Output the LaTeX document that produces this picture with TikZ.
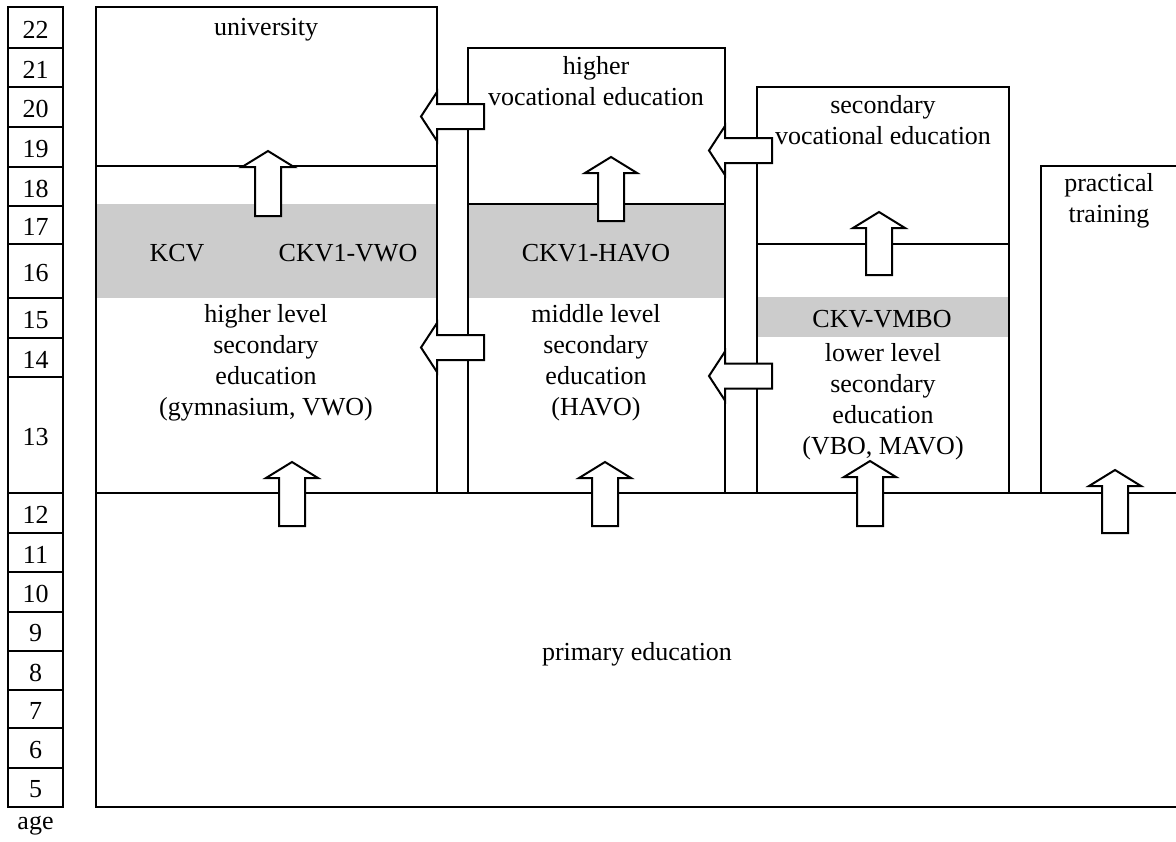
\documentclass[tikz,border=0pt]{standalone}
\usepackage{fontspec}
\setmainfont{Liberation Serif}
\usepackage{tikz}

% flecha de bloque hacia arriba: x centro, y base de la punta, y fondo
\newcommand{\flechaarriba}[3]{%
  \draw[flecha] (#1-13,#3) -- (#1-13,#2) -- (#1-26,#2) -- (#1,#2-16)
    -- (#1+26,#2) -- (#1+13,#2) -- (#1+13,#3) -- cycle;}
% flecha de bloque hacia la izquierda: x base de la punta, y centro
\newcommand{\flechaizq}[2]{%
  \draw[flecha] (#1+47,#2-12.5) -- (#1,#2-12.5) -- (#1,#2-24.5) -- (#1-16,#2)
    -- (#1,#2+24.5) -- (#1,#2+12.5) -- (#1+47,#2+12.5) -- cycle;}

\begin{document}
\begin{tikzpicture}[x=0.5pt, y=-0.5pt, line width=1pt,
    flecha/.style={fill=white},
    gris/.style={fill=black!20},
    texto/.style={align=center, inner sep=0pt, font=\fontsize{13}{15.5}\selectfont}]
  \useasboundingbox (0,0) rectangle (1176,841);
  % columna de edades
  \foreach \edad/\ya/\yb in {22/7/48, 21/48/87, 20/87/127, 19/127/167, 18/167/206,
      17/206/244, 16/244/298, 15/298/338, 14/338/377, 13/377/493, 12/493/533,
      11/533/572, 10/572/612, 9/612/651, 8/651/690, 7/690/728, 6/728/768, 5/768/807} {
    \draw (8,\ya) rectangle (63,\yb);
    \node[texto] (e\edad) at (35.5,{(\ya+\yb)/2+2}) {\edad};
  }
  \node[texto] (edad) at (35.5,826) {age};
  % bandas grises (CKV)
  \fill[gris] (96,204) rectangle (437,298);
  \fill[gris] (468,204) rectangle (725,298);
  \fill[gris] (757,297) rectangle (1009,337);
  % universidad y VWO
  \draw (96,493) -- (96,7) -- (437,7) -- (437,493);
  \draw (96,166) -- (437,166);
  % HBO y HAVO
  \draw (468,493) -- (468,48) -- (725,48) -- (725,493);
  \draw (468,204) -- (725,204);
  % MBO y VMBO
  \draw (757,493) -- (757,87) -- (1009,87) -- (1009,493);
  \draw (757,244) -- (1009,244);
  % practica
  \draw (1041,493) -- (1041,166) -- (1180,166);
  % primaria
  \draw (1180,493) -- (96,493) -- (96,807) -- (1180,807);
  % flechas hacia arriba
  \flechaarriba{268}{167}{216}
  \flechaarriba{611}{173}{221}
  \flechaarriba{879}{228}{275}
  \flechaarriba{292}{478}{526}
  \flechaarriba{605}{478}{526}
  \flechaarriba{870}{477}{526}
  \flechaarriba{1115}{486}{533}
  % flechas hacia la izquierda
  \flechaizq{437}{116.5}
  \flechaizq{437}{347.5}
  \flechaizq{725}{150.5}
  \flechaizq{725}{376}
  % textos
  \node[texto] (univ) at (266,30) {university};
  \node[texto] (hbo) at (596,81) {higher\\vocational education};
  \node[texto] (mbo) at (883,120) {secondary\\vocational education};
  \node[texto] (praktijk) at (1109,201) {practical\\training};
  \node[texto] (kcv) at (177,253) {KCV};
  \node[texto] (ckvvwo) at (348,253) {CKV1-VWO};
  \node[texto] (ckvhavo) at (596,253) {CKV1-HAVO};
  \node[texto] (ckvvmbo) at (882,319) {CKV-VMBO};
  \node[texto] (vwo) at (266,363) {higher level\\secondary\\education\\(gymnasium, VWO)};
  \node[texto] (havo) at (596,363) {middle level\\secondary\\education\\(HAVO)};
  \node[texto] (vmbo) at (883,402) {lower level\\secondary\\education\\(VBO, MAVO)};
  \node[texto] (basis) at (637,654) {primary education};
\end{tikzpicture}
\end{document}
